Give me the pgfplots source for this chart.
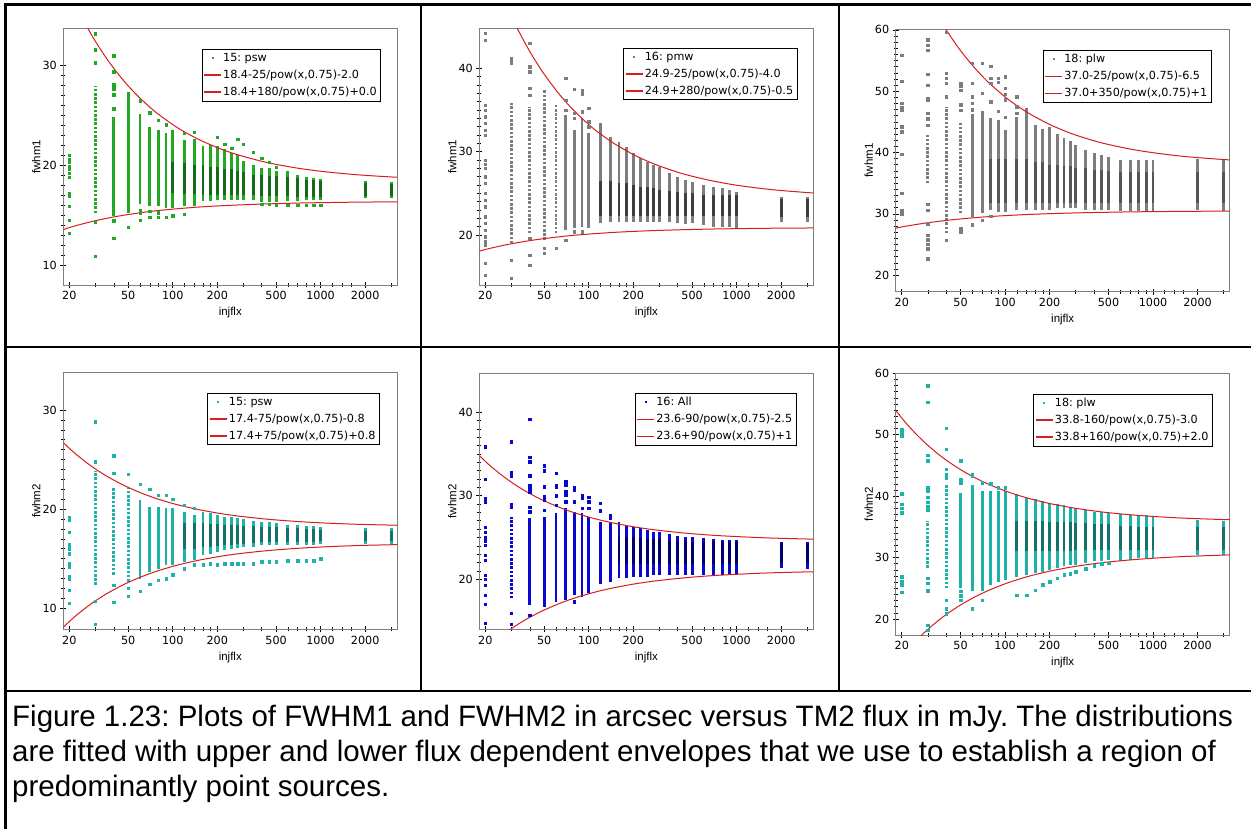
\documentclass[border=0pt]{standalone}
\usepackage{pgfplots}
\pgfplotsset{compat=1.18}
\usepackage{pgfplotstable}
\usepackage{fontspec}
\setmainfont{Liberation Sans}
\newfontfamily\dvs{DejaVu Sans}
\frenchspacing
\definecolor{cgreen}{RGB}{34,168,34}
\definecolor{cgreenD}{RGB}{22,105,22}
\definecolor{cgray}{RGB}{125,125,125}
\definecolor{cgrayD}{RGB}{62,62,62}
\definecolor{cgrayM}{RGB}{85,85,85}
\definecolor{cteal}{RGB}{30,178,168}
\definecolor{ctealD}{RGB}{20,112,106}
\definecolor{cblue}{RGB}{8,8,208}
\definecolor{cblueD}{RGB}{0,0,110}
\definecolor{cred}{RGB}{215,30,30}
\definecolor{cframe}{RGB}{128,128,128}

\pgfplotsset{
  every axis/.append style={
    scale only axis, width=334pt,
    xmode=log, xmin=18.2, xmax=3300,
    xtick={20,50,100,200,500,1000,2000},
    xticklabels={20,50,100,200,500,1000,2000},
    minor xtick={30,40,60,70,80,90,120,140,160,180,300,400,600,700,800,900,1200,1400,1600,3000},
    minor y tick num=9,
    tick pos=left,
    tick align=center,
    major tick length=6pt, minor tick length=4pt,
    every tick/.style={black, line width=0.6pt},
    axis line style={cframe, line width=0.9pt},
    ticklabel style={font=\dvs\fontsize{11.2}{13}\selectfont},
    yticklabel style={/pgf/number format/assume math mode=true},
    xlabel={injflx},
    every axis x label/.style={at={(axis description cs:0.5,0)}, yshift=-28pt, anchor=center, font=\fontsize{11.5}{13}\selectfont},
    every axis y label/.style={at={(axis description cs:-0.081,0.5)}, rotate=90, anchor=center, font=\fontsize{11.5}{13}\selectfont},
    legend style={draw=black, line width=0.9pt, fill=white, font=\dvs\fontsize{11.2}{13}\selectfont, anchor=north east, inner sep=2pt, row sep=3pt},
    legend cell align=left,
  },
  barsty/.style={forget plot, draw=none, fill=none, mark=none, only marks, mark size=0pt, mark options={draw=none, fill=none},
    error bars/y dir=plus, error bars/y explicit, error bars/error mark=none,
    error bars/error bar style={solid, line width=2.8pt, draw=#1}},
  sparsesty/.style={forget plot, draw=none, fill=none, mark=none, only marks, mark size=0pt, mark options={draw=none, fill=none},
    error bars/y dir=plus, error bars/y explicit, error bars/error mark=none,
    error bars/error bar style={line width=2.8pt, draw=#1, dash pattern=on 2.6pt off 1.6pt}},
  ptsty/.style={forget plot, only marks, mark=square*, mark size=1.2pt, color=#1, mark options={draw=none, fill=#1}},
  curve/.style={cred, line width=1pt, smooth, mark=none,
    legend image code/.code={\fill[fill=cred, draw=none] (0cm,-0.7pt) rectangle (0.6cm,0.7pt);}},
  markleg/.style={legend image code/.code={\fill[fill=#1, draw=none] (0.3cm,0cm) ++(-1pt,-1pt) rectangle ++(2pt,2pt);}},
}

% ---------------- Envelope curves (x, upper, lower) ----------------
\pgfplotstableread{
x U L
18 39.00 13.54
20 37.43 13.76
22 36.12 13.94
25 34.50 14.16
27 33.60 14.29
30 32.44 14.45
35 30.91 14.66
40 29.72 14.83
45 28.76 14.96
50 27.97 15.07
60 26.75 15.24
70 25.84 15.37
80 25.13 15.47
100 24.09 15.61
120 23.36 15.71
150 22.60 15.82
200 21.78 15.93
250 21.26 16.00
300 20.90 16.05
400 20.41 16.12
500 20.10 16.16
700 19.72 16.22
1000 19.41 16.26
1500 19.15 16.30
2000 19.00 16.32
3000 18.84 16.34
3500 18.80 16.35
}\pAc
\pgfplotstableread{
x U L
18 56.44 18.04
20 54.01 18.26
22 51.97 18.44
25 49.44 18.66
27 48.04 18.79
30 46.24 18.95
35 43.86 19.16
40 42.00 19.33
45 40.52 19.46
50 39.29 19.57
60 37.39 19.74
70 35.97 19.87
80 34.87 19.97
100 33.25 20.11
120 32.12 20.21
150 30.93 20.32
200 29.66 20.43
250 28.85 20.50
300 28.28 20.55
400 27.53 20.62
500 27.05 20.66
700 26.46 20.72
1000 25.97 20.76
1500 25.56 20.80
2000 25.34 20.82
3000 25.09 20.84
3500 25.02 20.85
}\pBc
\pgfplotstableread{
x U L
18 78.05 27.64
20 75.01 27.86
22 72.46 28.04
25 69.30 28.26
27 67.55 28.39
30 65.30 28.55
35 62.32 28.76
40 60.00 28.93
45 58.15 29.06
50 56.61 29.17
60 54.24 29.34
70 52.46 29.47
80 51.08 29.57
100 49.07 29.71
120 47.65 29.81
150 46.17 29.92
200 44.58 30.03
250 43.57 30.10
300 42.85 30.15
400 41.91 30.22
500 41.31 30.26
700 40.57 30.32
1000 39.97 30.36
1500 39.45 30.40
2000 39.17 30.42
3000 38.86 30.44
3500 38.77 30.45
}\pCc
\pgfplotstableread{
x U L
18 26.78 8.02
20 26.13 8.67
22 25.58 9.22
25 24.91 9.89
27 24.53 10.27
30 24.05 10.75
35 23.41 11.39
40 22.92 11.88
45 22.52 12.28
50 22.19 12.61
60 21.68 13.12
70 21.30 13.50
80 21.00 13.80
100 20.57 14.23
120 20.27 14.53
150 19.95 14.85
200 19.61 15.19
250 19.39 15.41
300 19.24 15.56
400 19.04 15.76
500 18.91 15.89
700 18.75 16.05
1000 18.62 16.18
1500 18.51 16.29
2000 18.45 16.35
3000 18.39 16.41
3500 18.36 16.44
}\pDc
\pgfplotstableread{
x U L
18 34.90 10.80
20 34.12 11.58
22 33.46 12.24
25 32.65 13.05
27 32.20 13.50
30 31.62 14.08
35 30.85 14.85
40 30.26 15.44
45 29.78 15.92
50 29.39 16.31
60 28.78 16.92
70 28.32 17.38
80 27.96 17.74
100 27.45 18.25
120 27.08 18.62
150 26.70 19.00
200 26.29 19.41
250 26.03 19.67
300 25.85 19.85
400 25.61 20.09
500 25.45 20.25
700 25.26 20.44
1000 25.11 20.59
1500 24.97 20.73
2000 24.90 20.80
3000 24.82 20.88
3500 24.80 20.90
}\pEc
\pgfplotstableread{
x U L
18 54.11 12.49
20 52.72 13.88
22 51.55 15.05
25 50.11 16.49
27 49.31 17.29
30 48.28 18.32
35 46.92 19.68
40 45.86 20.74
45 45.01 21.59
50 44.31 22.29
60 43.22 23.38
70 42.41 24.19
80 41.78 24.82
100 40.86 25.74
120 40.21 26.39
150 39.53 27.07
200 38.81 27.79
250 38.35 28.25
300 38.02 28.58
400 37.59 29.01
500 37.31 29.29
700 36.98 29.62
1000 36.70 29.90
1500 36.46 30.14
2000 36.34 30.26
3000 36.19 30.41
3500 36.15 30.45
}\pFc

% ---------------- Column extents (x, lo, hi) ----------------
\pgfplotstableread{
x lo hi
30 15.2 28.0
}\pAs
\pgfplotstableread{
x lo hi
40 14.9 24.9
50 15.2 27.4
60 16.1 25.2
70 15.9 23.8
80 15.9 23.5
90 15.7 23.2
100 15.7 23.5
120 15.9 22.5
140 15.9 22.6
160 16.4 21.9
180 16.4 22.0
200 16.5 21.9
225 16.5 21.6
250 16.5 21.2
275 16.5 21.0
300 16.5 20.4
350 16.5 20.0
400 16.35 19.7
450 16.35 19.7
500 16.35 19.4
600 16.4 19.4
700 16.4 19.0
800 16.5 18.8
900 16.5 18.7
1000 16.5 18.6
2000 16.7 18.4
3000 16.7 18.3
}\pAb
\pgfplotstableread{
x lo hi
100 17.2 20.3
120 17.1 20.2
140 17.1 20.0
160 17.0 20.0
180 17.0 19.8
200 17.0 19.8
225 17.0 19.6
250 17.0 19.6
275 17.0 19.4
300 17.0 19.3
350 17.0 19.0
400 16.9 19.0
450 16.9 18.9
500 16.9 18.9
600 16.9 18.8
700 16.8 18.7
800 16.8 18.5
900 16.8 18.5
1000 16.8 18.4
2000 16.9 18.2
3000 16.9 18.1
}\pAk
\pgfplotstableread{
x lo hi
30 19.0 35.8
40 20.2 35.4
50 19.4 37.4
60 20.2 35.8
}\pBs
\pgfplotstableread{
x lo hi
70 20.6 34.4
80 20.8 32.6
90 21.0 34.0
100 20.8 32.2
120 21.4 33.4
140 21.6 31.8
160 21.6 31.2
180 21.6 30.6
200 21.6 29.8
225 21.6 29.2
250 21.6 28.8
275 21.6 28.4
300 21.6 28.2
350 21.5 27.4
400 21.4 27.0
450 21.3 26.6
500 21.4 26.4
600 21.2 26.0
700 21.0 25.8
800 21.0 25.6
900 21.0 25.4
1000 20.8 25.2
2000 21.5 24.6
3000 21.5 24.6
}\pBb
\pgfplotstableread{
x lo hi
120 22.3 26.5
140 22.3 26.5
160 22.3 26.2
180 22.3 26.2
200 22.3 26.0
225 22.3 25.8
250 22.3 25.8
275 22.3 25.6
300 22.3 25.4
350 22.3 25.3
400 22.3 25.2
450 22.3 25.0
500 22.3 25.0
600 22.3 24.8
700 22.3 24.8
800 22.3 24.8
900 22.3 24.8
1000 22.3 24.8
2000 22.2 24.3
3000 22.2 24.3
}\pBk
\pgfplotstableread{
x lo hi
30 35.0 42.9
40 26.8 47.5
50 30.1 44.8
}\pCs
\pgfplotstableread{
x lo hi
60 29.5 45.8
70 30.1 46.7
80 30.6 45.6
90 30.3 45.3
100 30.3 43.7
120 30.6 45.8
140 30.6 47.2
160 30.6 44.5
180 30.6 43.9
200 30.6 44.2
225 30.9 43.1
250 30.9 42.3
275 30.9 41.8
300 30.9 41.2
350 30.6 40.4
400 30.6 39.9
450 30.6 39.6
500 30.6 39.3
600 30.5 38.8
700 30.5 38.8
800 30.5 38.8
900 30.5 38.8
1000 30.5 38.8
2000 30.6 38.9
3000 30.5 38.9
}\pCb
\pgfplotstableread{
x lo hi
80 31.8 39.0
90 31.8 39.0
100 31.8 39.0
120 31.8 39.0
140 31.8 39.0
160 31.8 38.5
180 31.8 38.5
200 31.8 38.0
225 31.8 38.0
250 31.8 37.8
275 31.8 37.8
300 31.8 37.5
350 31.8 37.5
400 31.8 37.2
450 31.8 37.2
500 31.8 37.0
600 31.8 36.8
700 31.8 36.8
800 31.8 36.8
900 31.8 36.8
1000 31.8 36.8
2000 31.8 36.8
3000 31.8 36.8
}\pCk
\pgfplotstableread{
x lo hi
30 12.35 23.8
40 13.4 22.1
50 12.7 22.1
}\pDs
\pgfplotstableread{
x lo hi
60 13.0 20.9
70 13.7 20.25
80 14.0 20.25
90 14.4 20.1
100 14.4 20.1
120 14.7 19.75
140 14.9 19.4
160 15.4 19.75
180 15.5 19.6
200 15.7 19.4
225 15.9 19.2
250 16.0 19.2
275 16.05 19.1
300 16.2 19.0
350 16.2 18.8
400 16.4 18.7
450 16.4 18.7
500 16.4 18.6
600 16.4 18.4
700 16.4 18.4
800 16.4 18.3
900 16.4 18.3
1000 16.5 18.2
2000 16.5 18.1
3000 16.5 18.1
}\pDb
\pgfplotstableread{
x lo hi
120 16.0 18.6
140 16.0 18.6
160 16.2 18.6
180 16.2 18.5
200 16.3 18.5
225 16.4 18.4
250 16.4 18.4
275 16.5 18.4
300 16.5 18.3
350 16.6 18.3
400 16.7 18.2
450 16.7 18.2
500 16.7 18.2
600 16.7 18.1
700 16.7 18.1
800 16.7 18.0
900 16.7 18.0
1000 16.8 17.9
2000 16.8 17.8
3000 16.8 17.8
}\pDk
\pgfplotstableread{
x lo hi
30 17.7 27.5
}\pEs
\pgfplotstableread{
x lo hi
40 16.9 27.3
50 16.7 27.5
60 17.3 27.9
70 17.5 28.5
80 18.1 28.1
90 17.9 27.9
100 18.3 27.5
120 19.4 26.9
140 19.7 26.9
160 20.1 26.9
180 20.1 26.5
200 20.3 26.3
225 20.3 26.1
250 20.3 25.9
275 20.5 25.7
300 20.5 25.6
350 20.5 25.4
400 20.5 25.2
450 20.5 25.1
500 20.5 25.0
600 20.5 24.9
700 20.5 24.8
800 20.5 24.7
900 20.5 24.7
1000 20.5 24.7
2000 21.3 24.5
3000 21.2 24.4
}\pEb
\pgfplotstableread{
x lo hi
160 21.8 25.0
180 21.8 25.0
200 21.8 25.0
225 21.8 24.9
250 21.8 24.8
275 21.8 24.8
300 21.8 24.8
350 21.8 24.6
400 21.8 24.6
450 21.8 24.6
500 21.8 24.5
600 21.8 24.5
700 21.8 24.4
800 21.8 24.4
900 21.8 24.4
1000 21.8 24.4
2000 22.0 24.3
3000 22.0 24.2
}\pEk
\pgfplotstableread{
x lo hi
30 28.3 35.9
40 25.0 41.9
}\pFs
\pgfplotstableread{
x lo hi
50 25.0 40.5
60 24.5 41.9
70 24.5 40.8
80 25.6 40.8
90 26.1 40.8
100 26.4 40.8
120 26.9 40.3
140 27.2 39.7
160 27.5 39.5
180 27.7 39.2
200 28.0 38.9
225 28.3 38.7
250 28.6 38.5
275 28.8 38.3
300 28.8 38.1
350 29.1 37.7
400 29.4 37.5
450 29.5 37.4
500 29.6 37.3
600 29.4 37.1
700 29.6 37.0
800 29.9 36.9
900 29.9 36.9
1000 29.9 36.7
2000 30.4 36.2
3000 30.4 36.0
}\pFb
\pgfplotstableread{
x lo hi
120 31.0 36.0
140 31.0 36.0
160 31.0 36.0
180 31.0 36.0
200 31.0 35.8
225 31.0 35.8
250 31.0 35.8
275 31.0 35.8
300 31.2 35.6
350 31.2 35.6
400 31.3 35.4
450 31.3 35.4
500 31.3 35.4
600 31.3 35.2
700 31.3 35.2
800 31.3 35.0
900 31.3 35.0
1000 31.3 35.0
2000 31.3 35.0
3000 31.3 35.0
}\pFk

\begin{document}
\begin{tikzpicture}
\useasboundingbox (0pt,0pt) rectangle (1251pt,-828pt);
\fill[white] (0pt,0pt) rectangle (1251pt,-828pt);

% ===== Panel 1 =====
\begin{axis}[at={(63.3pt,-28.3pt)}, anchor=north west, height=256.7pt,
  ymin=8.0, ymax=33.75, ytick={10,20,30}, ylabel={fwhm1},
  legend style={at={(axis description cs:0.952,0.92)}}]
\addplot[sparsesty=cgreen] table[x=x, y=lo, y error expr=\thisrow{hi}-\thisrow{lo}] {\pAs};
\addplot[barsty=cgreen] table[x=x, y=lo, y error expr=\thisrow{hi}-\thisrow{lo}] {\pAb};
\addplot[barsty=cgreenD] table[x=x, y=lo, y error expr=\thisrow{hi}-\thisrow{lo}] {\pAk};
\addplot[ptsty=cgreen] coordinates {
(20,21.0)(20,20.6)(20,20.3)(20,19.9)(20,19.6)(20,19.2)(20,18.8)(20,17.2)(20,16.9)(20,15.9)(20,14.5)(20,13.2)
(30,33.2)(30,31.6)(30,30.3)(30,14.3)(30,10.9)
(40,31.0)(40,29.4)(40,28.1)(40,27.7)(40,27.1)(40,25.7)(40,14.45)(40,12.7)
(50,13.8)(60,26.5)(60,15.5)(60,15.2)(60,14.5)
(70,25.3)(70,15.4)(70,14.8)(80,24.55)(80,15.25)(80,14.8)(90,24.1)(90,14.8)
(100,14.95)(120,23.2)(120,15.1)(140,23.3)
(200,22.8)(225,22.1)(250,21.7)(275,22.6)(300,22.1)(350,21.3)
(400,20.7)(400,16.1)(450,20.3)(450,16.1)(500,19.8)(500,16.0)
(600,16.0)(700,16.0)(800,16.0)(900,16.0)(1000,16.0)};
\addlegendimage{markleg=cgreen}
\addlegendentry{15: psw}
\addplot[curve] table[x=x, y=L] {\pAc};
\addlegendentry{18.4-25/pow(x,0.75)-2.0}
\addplot[curve] table[x=x, y=U] {\pAc};
\addlegendentry{18.4+180/pow(x,0.75)+0.0}
\end{axis}

% ===== Panel 2 =====
\begin{axis}[at={(479.3pt,-28.3pt)}, anchor=north west, height=256.7pt,
  ymin=14.0, ymax=44.8, ytick={20,30,40}, ylabel={fwhm1},
  legend style={at={(axis description cs:0.953,0.925)}}]
\addplot[sparsesty=cgray] table[x=x, y=lo, y error expr=\thisrow{hi}-\thisrow{lo}] {\pBs};
\addplot[barsty=cgray] table[x=x, y=lo, y error expr=\thisrow{hi}-\thisrow{lo}] {\pBb};
\addplot[barsty=cgrayD] table[x=x, y=lo, y error expr=\thisrow{hi}-\thisrow{lo}] {\pBk};
\addplot[ptsty=cgray] coordinates {
(20,44.2)(20,43.4)(20,35.6)(20,35.0)(20,34.2)(20,33.4)(20,32.6)(20,32.0)(20,29.0)(20,28.5)(20,28.0)(20,27.0)(20,26.2)(20,25.0)(20,24.2)(20,23.4)(20,22.2)(20,21.4)(20,20.6)(20,19.8)(20,19.2)(20,18.8)(20,16.6)(20,15.2)
(30,41.2)(30,40.8)(30,40.6)(30,17.0)(30,14.8)
(40,43.0)(40,40.2)(40,39.6)(40,37.6)(40,36.8)(40,19.6)(40,17.6)(40,16.4)
(50,18.4)(50,17.8)(60,18.4)
(70,38.8)(70,36.2)(70,35.0)(70,19.4)
(80,37.5)(80,34.6)(80,34.0)(80,20.4)
(90,37.3)(90,36.9)(90,34.8)(90,20.4)
(100,35.2)(100,33.6)(100,33.0)};
\addlegendimage{markleg=cgray}
\addlegendentry{16: pmw}
\addplot[curve] table[x=x, y=L] {\pBc};
\addlegendentry{24.9-25/pow(x,0.75)-4.0}
\addplot[curve] table[x=x, y=U] {\pBc};
\addlegendentry{24.9+280/pow(x,0.75)-0.5}
\end{axis}

% ===== Panel 3 =====
\begin{axis}[at={(895.7pt,-29.3pt)}, anchor=north west, height=262.4pt,
  ymin=17.3, ymax=60.1, ytick={20,30,40,50,60}, ylabel={fwhm1},
  legend style={at={(axis description cs:0.946,0.921)}}]
\addplot[sparsesty=cgray] table[x=x, y=lo, y error expr=\thisrow{hi}-\thisrow{lo}] {\pCs};
\addplot[barsty=cgray] table[x=x, y=lo, y error expr=\thisrow{hi}-\thisrow{lo}] {\pCb};
\addplot[barsty=cgrayM] table[x=x, y=lo, y error expr=\thisrow{hi}-\thisrow{lo}] {\pCk};
\addplot[ptsty=cgray] coordinates {
(20,55.9)(20,51.6)(20,48.0)(20,47.4)(20,46.9)(20,44.2)(20,43.4)(20,39.7)(20,33.4)(20,30.6)(20,30.0)
(30,58.4)(30,57.5)(30,56.7)(30,52.8)(30,51.0)(30,48.8)(30,48.6)(30,46.4)(30,45.5)(30,44.5)(30,31.6)(30,30.6)(30,28.4)(30,26.5)(30,25.8)(30,25.0)(30,24.3)(30,22.7)
(40,59.6)(40,52.9)(40,52.1)(40,51.3)(40,49.1)(40,25.7)
(50,51.3)(50,50.8)(50,50.2)(50,47.8)(50,46.9)(50,27.6)(50,27.0)
(60,54.6)(60,51.3)(60,49.1)(60,48.0)(60,47.0)(60,46.1)(60,28.2)
(70,54.6)(70,49.7)(70,29.0)
(80,54.1)(80,52.1)(80,51.3)(80,48.3)(80,29.6)
(90,52.1)(90,51.5)(90,46.7)
(100,52.4)(100,50.5)(100,49.5)(100,48.6)(100,45.8)
(120,49.1)(120,47.5)(120,46.4)};
\addlegendimage{markleg=cgray}
\addlegendentry{18: plw}
\addplot[curve] table[x=x, y=L] {\pCc};
\addlegendentry{37.0-25/pow(x,0.75)-6.5}
\addplot[curve] table[x=x, y=U] {\pCc};
\addlegendentry{37.0+350/pow(x,0.75)+1}
\end{axis}

% ===== Panel 4 =====
\begin{axis}[at={(63.3pt,-372.7pt)}, anchor=north west, height=256.6pt,
  ymin=7.88, ymax=33.76, ytick={10,20,30}, ylabel={fwhm2},
  legend style={at={(axis description cs:0.948,0.922)}}]
\addplot[sparsesty=cteal] table[x=x, y=lo, y error expr=\thisrow{hi}-\thisrow{lo}] {\pDs};
\addplot[barsty=cteal] table[x=x, y=lo, y error expr=\thisrow{hi}-\thisrow{lo}] {\pDb};
\addplot[barsty=ctealD] table[x=x, y=lo, y error expr=\thisrow{hi}-\thisrow{lo}] {\pDk};
\addplot[ptsty=cteal] coordinates {
(20,19.2)(20,18.9)(20,17.7)(20,16.4)(20,16.0)(20,15.5)(20,14.5)(20,14.2)(20,13.2)(20,13.0)(20,11.8)(20,10.5)
(30,28.8)(30,24.8)(30,10.7)(30,8.4)
(40,25.4)(40,23.6)(40,12.35)(40,10.6)
(50,23.5)(50,12.0)(50,11.2)
(60,22.5)(60,11.75)(70,22.0)(70,12.4)(80,21.4)(80,12.85)(90,21.4)(90,13.0)
(100,21.0)(100,13.4)(120,20.4)(120,14.0)(140,20.1)(140,14.4)
(160,14.4)(180,14.5)(200,14.4)(225,14.5)(250,14.5)(275,14.5)(300,14.5)(350,14.5)
(400,14.7)(450,14.7)(500,14.7)(600,14.8)(700,14.8)(800,14.8)(900,14.8)(1000,15.0)};
\addlegendimage{markleg=cteal}
\addlegendentry{15: psw}
\addplot[curve] table[x=x, y=L] {\pDc};
\addlegendentry{17.4-75/pow(x,0.75)-0.8}
\addplot[curve] table[x=x, y=U] {\pDc};
\addlegendentry{17.4+75/pow(x,0.75)+0.8}
\end{axis}

% ===== Panel 5 =====
\begin{axis}[at={(479.3pt,-373.3pt)}, anchor=north west, height=256pt,
  ymin=14.0, ymax=44.67, ytick={20,30,40}, ylabel={fwhm2},
  legend style={at={(axis description cs:0.95,0.924)}}]
\addplot[sparsesty=cblue] table[x=x, y=lo, y error expr=\thisrow{hi}-\thisrow{lo}] {\pEs};
\addplot[barsty=cblue] table[x=x, y=lo, y error expr=\thisrow{hi}-\thisrow{lo}] {\pEb};
\addplot[barsty=cblueD] table[x=x, y=lo, y error expr=\thisrow{hi}-\thisrow{lo}] {\pEk};
\addplot[ptsty=cblue] coordinates {
(20,35.9)(20,32.0)(20,29.7)(20,29.3)(20,26.2)(20,25.6)(20,25.0)(20,24.6)(20,24.1)(20,22.9)(20,22.3)(20,20.5)(20,20.0)(20,19.3)(20,18.1)(20,17.0)(20,14.7)
(30,36.5)(30,32.8)(30,32.4)(30,29.0)(30,28.6)(30,15.9)(30,14.6)
(40,39.2)(40,34.6)(40,34.1)(40,32.4)(40,31.3)(40,30.9)(40,30.5)(40,28.6)(40,28.1)(40,15.7)
(50,33.6)(50,33.0)(50,31.1)(50,29.9)(50,29.5)(50,28.3)
(60,32.7)(60,31.3)(60,31.0)(60,30.0)(60,28.9)
(70,31.7)(70,31.3)(70,30.5)(70,30.1)(70,29.3)
(80,31.0)(80,30.7)(80,29.3)(80,17.3)
(90,30.1)(90,29.7)(90,28.5)
(100,29.8)(100,29.3)(100,28.5)
(120,29.1)(120,28.2)(140,27.7)(140,27.3)};
\addlegendimage{markleg=cblue}
\addlegendentry{16: All}
\addplot[curve] table[x=x, y=L] {\pEc};
\addlegendentry{23.6-90/pow(x,0.75)-2.5}
\addplot[curve] table[x=x, y=U] {\pEc};
\addlegendentry{23.6+90/pow(x,0.75)+1}
\end{axis}

% ===== Panel 6 =====
\begin{axis}[at={(895.7pt,-373.3pt)}, anchor=north west, height=261.7pt,
  ymin=17.4, ymax=60.0, ytick={20,30,40,50,60}, ylabel={fwhm2},
  legend style={at={(axis description cs:0.95,0.922)}}]
\addplot[sparsesty=cteal] table[x=x, y=lo, y error expr=\thisrow{hi}-\thisrow{lo}] {\pFs};
\addplot[barsty=cteal] table[x=x, y=lo, y error expr=\thisrow{hi}-\thisrow{lo}] {\pFb};
\addplot[barsty=ctealD] table[x=x, y=lo, y error expr=\thisrow{hi}-\thisrow{lo}] {\pFk};
\addplot[ptsty=cteal] coordinates {
(20,50.9)(20,50.3)(20,49.8)(20,40.4)(20,38.7)(20,38.0)(20,37.3)(20,26.9)(20,26.2)(20,25.6)(20,24.4)
(30,58.0)(30,55.3)(30,46.7)(30,45.8)(30,41.4)(30,40.8)(30,39.8)(30,39.0)(30,38.4)(30,37.8)(30,26.6)(30,25.8)(30,24.6)(30,19.0)(30,18.2)
(40,51.1)(40,47.6)(40,44.4)(40,43.6)(40,43.0)(40,23.1)(40,21.7)(40,20.9)
(50,45.8)(50,42.7)(50,42.2)(50,24.5)(50,23.8)(50,23.1)
(60,43.6)(60,43.3)(60,21.7)(70,42.2)(70,23.1)
(80,42.0)(90,41.4)(100,41.4)(120,23.9)(140,23.9)(160,24.7)(180,25.6)
(200,26.1)(225,26.6)(250,27.2)(275,27.4)(300,27.7)(350,28.2)(400,28.7)(450,29.0)(500,29.1)};
\addlegendimage{markleg=cteal}
\addlegendentry{18: plw}
\addplot[curve] table[x=x, y=L] {\pFc};
\addlegendentry{33.8-160/pow(x,0.75)-3.0}
\addplot[curve] table[x=x, y=U] {\pFc};
\addlegendentry{33.8+160/pow(x,0.75)+2.0}
\end{axis}

% ===== Table frame =====
\begin{scope}[line width=2.5pt, black]
\draw (5.5pt,-4.5pt) -- (1260pt,-4.5pt);
\draw (5.5pt,-3.2pt) -- (5.5pt,-840pt);
\draw (421pt,-4.5pt) -- (421pt,-691pt);
\draw (839pt,-4.5pt) -- (839pt,-691pt);
\draw (5.5pt,-347pt) -- (1260pt,-347pt);
\draw (5.5pt,-691pt) -- (1260pt,-691pt);
\end{scope}

% ===== Caption =====
\begin{scope}[every node/.style={anchor=base west, inner sep=0pt, font=\fontsize{29.5}{35}\selectfont}]
\node at (12pt,-726pt) {Figure 1.23: Plots of FWHM1 and FWHM2 in arcsec versus TM2 flux in mJy. The distributions};
\node at (12pt,-761pt) {are fitted with upper and lower flux dependent envelopes that we use to establish a region of};
\node at (12pt,-796pt) {predominantly point sources.};
\end{scope}
\end{tikzpicture}
\end{document}
